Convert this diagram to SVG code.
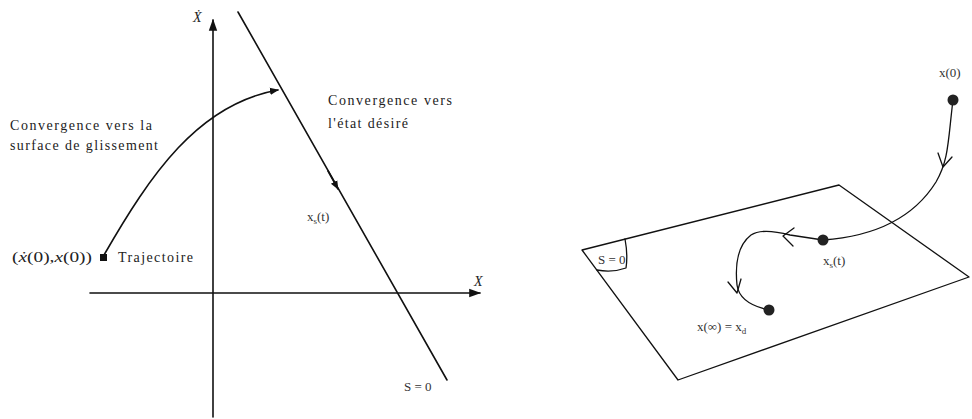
<svg xmlns="http://www.w3.org/2000/svg" width="972" height="419" viewBox="0 0 972 419">
<style>
.ln{fill:none;stroke:#111;stroke-width:1.6;stroke-linecap:round;stroke-linejoin:round}
.thin{fill:none;stroke:#111;stroke-width:1.3;stroke-linecap:round;stroke-linejoin:round}
.t{font-family:"Liberation Serif","DejaVu Serif",serif;font-size:14px;fill:#222}
.s{font-family:"Liberation Serif","DejaVu Serif",serif;font-size:13px;fill:#333}
.i{font-style:italic}
.dot{fill:#222}
</style>
<defs>
<marker id="fa" viewBox="0 0 10 10" refX="9" refY="5" markerWidth="9" markerHeight="9" markerUnits="userSpaceOnUse" orient="auto">
<path d="M0,1 L10,5 L0,9 Z" fill="#111"/>
</marker>
<marker id="ax" viewBox="0 0 10 10" refX="9" refY="5" markerWidth="12" markerHeight="12" markerUnits="userSpaceOnUse" orient="auto">
<path d="M0,1.5 L10,5 L0,8.5 Z" fill="#111"/>
</marker>
</defs>

<!-- LEFT DIAGRAM -->
<g id="axes">
<line class="ln" x1="213" y1="417" x2="213" y2="20" marker-end="url(#ax)"/>
<line class="ln" x1="90" y1="293" x2="480" y2="293" marker-end="url(#ax)"/>
<text class="t i" x="193" y="22">Ẋ</text>
<text class="t i" x="474" y="286">X</text>
</g>

<g id="sliding-surface">
<line class="ln" x1="238" y1="12" x2="447" y2="380"/>
<text class="s" x="404" y="391">S = 0</text>
</g>

<g id="connectors">
<path class="ln" d="M104,255 C150,175 198,104 278,90" marker-end="url(#fa)"/>
<line class="ln" x1="328" y1="171" x2="338" y2="189" marker-end="url(#fa)"/>
</g>

<g id="initial-point">
<rect x="100" y="254" width="7" height="7" fill="#111"/>
<text class="t" x="12" y="262" font-size="14" textLength="80" lengthAdjust="spacingAndGlyphs">(<tspan class="i">ẋ</tspan>(0),<tspan class="i">x</tspan>(0))</text>
<text class="t" x="118" y="262" textLength="75">Trajectoire</text>
</g>

<g id="label-reaching">
<text class="t" x="10" y="130" textLength="142">Convergence vers la</text>
<text class="t" x="10" y="150" textLength="148">surface de glissement</text>
</g>

<g id="label-desired">
<text class="t" x="328" y="105" textLength="124">Convergence vers</text>
<text class="t" x="328" y="128" textLength="80">l'état désiré</text>
</g>

<g id="label-xs-left">
<text class="s" x="307" y="221">x<tspan font-size="9" dy="3">s</tspan><tspan dy="-3">(t)</tspan></text>
</g>

<!-- RIGHT DIAGRAM -->
<g id="plane">
<path class="thin" d="M582,250 L839,185 L969,277 L678,380 Z"/>
<path class="thin" d="M625,239 Q628,255 626,268 Q612,273 597,270"/>
<text class="s" x="598" y="264" font-size="12">S = 0</text>
</g>

<g id="right-connectors">
<path class="thin" d="M953,100 C948,140 949,160 936,182 C916,214 880,236 823,240"/>
<polyline class="thin" points="938,153 943,167 952,157"/>
<path class="thin" d="M823,240 L790,235 C775,231 760,229 751,235 C738,245 735,265 737,285 C739,300 755,307 769,310"/>
<polyline class="thin" points="794,228 783,236 793,246"/>
<polyline class="thin" points="728,282 737,293 741,279"/>
</g>

<g id="point-x0">
<circle class="dot" cx="953" cy="100" r="5.5"/>
<text class="s" x="939" y="77">x(0)</text>
</g>

<g id="point-xs">
<circle class="dot" cx="823" cy="240" r="5.5"/>
<text class="s" x="823" y="265">x<tspan font-size="9" dy="3">s</tspan><tspan dy="-3">(t)</tspan></text>
</g>

<g id="point-xinf">
<circle class="dot" cx="769" cy="310" r="5.5"/>
<text class="s" x="697" y="331">x(∞) = x<tspan font-size="9" dy="3">d</tspan></text>
</g>
</svg>
